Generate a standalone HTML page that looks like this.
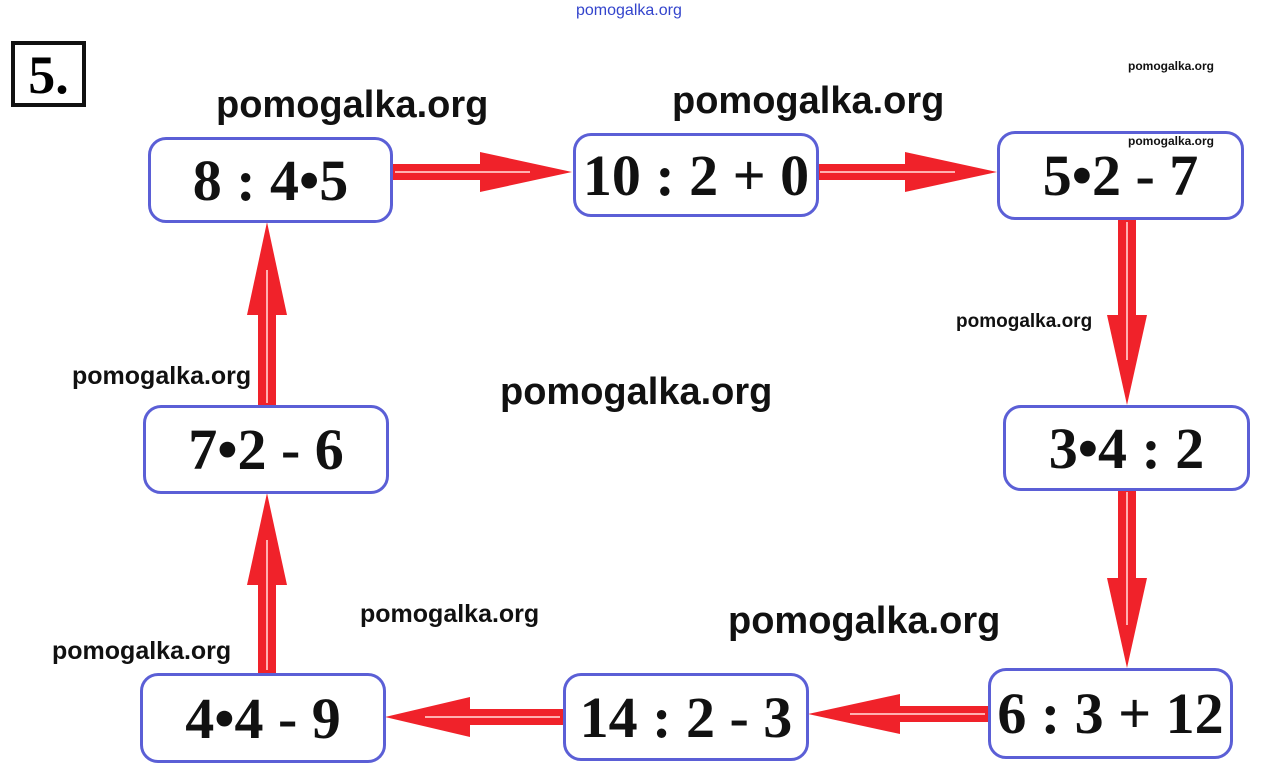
<!DOCTYPE html>
<html><head><meta charset="utf-8"><style>
body{margin:0;width:1265px;height:774px;background:#fff;position:relative;overflow:hidden;font-family:"Liberation Sans",sans-serif}
.w{position:absolute;color:#111;font-weight:bold;white-space:nowrap}
.b{position:absolute;border:3px solid #5b5fd6;border-radius:18px;background:#fff;box-sizing:border-box;display:flex;align-items:center;justify-content:center;font-family:"Liberation Serif",serif;font-weight:bold;font-size:58px;color:#111;white-space:nowrap}
</style></head><body>
<svg width="1265" height="774" style="position:absolute;left:0;top:0">
<g fill="#f0222a" stroke="none">
<rect x="392" y="164" width="100" height="16"/><polygon points="480,152 572,172 480,192"/>
<rect x="818" y="164" width="100" height="16"/><polygon points="905,152 997,172 905,192"/>
<rect x="1118" y="220" width="18" height="110"/><polygon points="1107,315 1147,315 1127,405"/>
<rect x="1118" y="490" width="18" height="100"/><polygon points="1107,578 1147,578 1127,668"/>
<rect x="900" y="706" width="88" height="16"/><polygon points="900,694 808,714 900,734"/>
<rect x="470" y="709" width="93" height="16"/><polygon points="470,697 385,717 470,737"/>
<rect x="258" y="575" width="18" height="98"/><polygon points="247,585 287,585 267,493"/>
<rect x="258" y="310" width="18" height="95"/><polygon points="247,315 287,315 267,222"/>
</g>
<g stroke="#ffb0b0" stroke-width="2">
<line x1="395" y1="172" x2="530" y2="172"/><line x1="820" y1="172" x2="955" y2="172"/>
<line x1="1127" y1="222" x2="1127" y2="360"/><line x1="1127" y1="492" x2="1127" y2="625"/>
<line x1="985" y1="714" x2="850" y2="714"/><line x1="560" y1="717" x2="425" y2="717"/>
<line x1="267" y1="670" x2="267" y2="540"/><line x1="267" y1="403" x2="267" y2="270"/>
</g>
</svg>
<div style="position:absolute;left:576px;top:2px;font-size:16px;color:#3344cc">pomogalka.org</div>
<div style="position:absolute;left:11px;top:41px;width:75px;height:66px;border:4px solid #111;box-sizing:border-box;font-family:'Liberation Serif',serif;font-weight:bold;font-size:54px;line-height:60px;text-align:center">5.</div>
<div class="b" style="left:148px;top:137px;width:245px;height:86px">8 : 4•5</div>
<div class="b" style="left:573px;top:133px;width:246px;height:84px">10 : 2 + 0</div>
<div class="b" style="left:997px;top:131px;width:247px;height:89px">5•2 - 7</div>
<div class="b" style="left:1003px;top:405px;width:247px;height:86px">3•4 : 2</div>
<div class="b" style="left:988px;top:668px;width:245px;height:91px">6 : 3 + 12</div>
<div class="b" style="left:563px;top:673px;width:246px;height:88px">14 : 2 - 3</div>
<div class="b" style="left:140px;top:673px;width:246px;height:90px">4•4 - 9</div>
<div class="b" style="left:143px;top:405px;width:246px;height:89px">7•2 - 6</div>
<div class="w" style="left:216px;top:84px;font-size:38px">pomogalka.org</div>
<div class="w" style="left:672px;top:80px;font-size:38px">pomogalka.org</div>
<div class="w" style="left:1128px;top:59px;font-size:12px">pomogalka.org</div>
<div class="w" style="left:1128px;top:134px;font-size:12px">pomogalka.org</div>
<div class="w" style="left:956px;top:311px;font-size:19px">pomogalka.org</div>
<div class="w" style="left:72px;top:362px;font-size:25px">pomogalka.org</div>
<div class="w" style="left:500px;top:371px;font-size:38px">pomogalka.org</div>
<div class="w" style="left:360px;top:600px;font-size:25px">pomogalka.org</div>
<div class="w" style="left:728px;top:600px;font-size:38px">pomogalka.org</div>
<div class="w" style="left:52px;top:637px;font-size:25px">pomogalka.org</div>
</body></html>
